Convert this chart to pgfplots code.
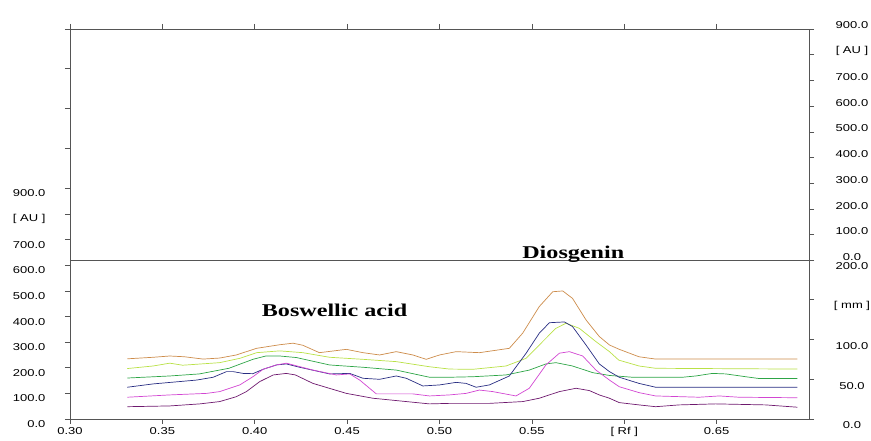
\documentclass[border=0pt]{standalone}
\usepackage{fontspec}
\setmainfont{Liberation Sans}[FakeStretch=1.3]
\newfontfamily\tnr{Liberation Serif}[FakeStretch=1.34]
\usepackage{graphicx}
\usepackage{pgfplots}
\pgfplotsset{compat=1.18}

\definecolor{axgray}{RGB}{85,85,85}
\definecolor{trOrange}{RGB}{205,140,75}
\definecolor{trYellow}{RGB}{185,225,70}
\definecolor{trGreen}{RGB}{45,165,70}
\definecolor{trBlue}{RGB}{40,45,130}
\definecolor{trMagenta}{RGB}{210,70,210}
\definecolor{trPurple}{RGB}{110,25,110}

\pgfplotsset{
  chrom/.style={
    width=739pt, height=390pt, scale only axis,
    xmin=0.3, xmax=0.7,
    axis line style={draw=axgray, line width=0.9pt},
    tick style={draw=axgray, line width=0.6pt},
    major tick length=5pt, tick align=outside,
    font=\fontsize{10}{12}\selectfont,
    /pgf/number format/assume math mode=true,
    no markers,
  },
  trace/.style={line width=0.7pt},
}

\begin{document}
\begin{tikzpicture}
% main axis, left scale [AU]
\begin{axis}[chrom,
  ymin=0, ymax=1523,
  xtick={0.30,0.35,0.40,0.45,0.50,0.55,0.60,0.65},
  xticklabels={0.30,0.35,0.40,0.45,0.50,0.55,{[ Rf ]},0.65},
  ytick={0,100,200,300,400,500,600,700,800,900,1058,1215,1371,1523},
  yticklabels={0.0,100.0,200.0,300.0,400.0,500.0,600.0,700.0,{[ AU ]},900.0,,,,},
  xtick pos=both, ytick pos=left,
  yticklabel style={xshift=-16pt, yshift=-5pt},
]
\addplot[trOrange, trace] coordinates {
(0.331,235) (0.345,241) (0.354,246) (0.362,243) (0.372,234) (0.381,238)
(0.390,250) (0.401,276) (0.4135,290) (0.4207,296) (0.426,288) (0.435,259)
(0.4496,272) (0.4586,259) (0.4676,250) (0.4766,263) (0.4856,250) (0.4928,233)
(0.500,250) (0.509,263) (0.5216,259) (0.5378,276) (0.545,335) (0.554,439)
(0.5613,497) (0.5667,500) (0.572,471) (0.5793,387) (0.5865,322) (0.592,289)
(0.5973,272) (0.608,243) (0.617,234) (0.6937,234)};
\addplot[trYellow, trace] coordinates {
(0.331,197) (0.345,207) (0.354,218) (0.361,210) (0.381,220) (0.392,237)
(0.401,259) (0.4135,266) (0.426,259) (0.4405,241) (0.4586,233) (0.4766,224)
(0.4946,204) (0.5054,195) (0.518,194) (0.536,207) (0.5469,237) (0.5558,302)
(0.563,354) (0.5685,374) (0.5757,354) (0.5847,302) (0.592,263) (0.597,230)
(0.608,207) (0.617,198) (0.6937,195)};
\addplot[trGreen, trace] coordinates {
(0.331,160) (0.354,168) (0.370,176) (0.386,198) (0.399,233) (0.406,246)
(0.4135,246) (0.4225,240) (0.4405,211) (0.4586,202) (0.4766,191) (0.4946,163)
(0.5054,163) (0.518,165) (0.536,172) (0.5486,191) (0.5576,215) (0.563,220)
(0.572,207) (0.5829,181) (0.592,170) (0.6045,163) (0.6315,163) (0.6387,168)
(0.6477,178) (0.655,176) (0.6658,165) (0.673,158) (0.6937,158)};
\addplot[trBlue, trace] coordinates {
(0.331,124) (0.345,137) (0.3685,152) (0.3775,163) (0.3847,185) (0.3883,185)
(0.3937,178) (0.399,177) (0.4045,194) (0.4117,211) (0.4171,215) (0.4243,202)
(0.4405,176) (0.4514,178) (0.4586,159) (0.4676,155) (0.4766,168) (0.482,159)
(0.491,129) (0.500,133) (0.509,143) (0.5144,139) (0.5198,124) (0.527,133)
(0.5378,168) (0.5469,257) (0.554,335) (0.5595,376) (0.5676,379) (0.572,361)
(0.5793,289) (0.5865,215) (0.592,185) (0.5973,163) (0.608,139) (0.617,124)
(0.6937,124)};
\addplot[trMagenta, trace] coordinates {
(0.331,85) (0.354,94) (0.3739,100) (0.381,107) (0.3919,133) (0.399,165)
(0.4045,194) (0.4117,211) (0.4171,218) (0.4315,191) (0.4441,172) (0.4514,176)
(0.4568,152) (0.4658,98) (0.4856,98) (0.4946,90) (0.5054,94) (0.5144,100)
(0.5216,113) (0.5288,107) (0.5414,90) (0.5486,120) (0.5576,211) (0.5649,257)
(0.5703,263) (0.5775,246) (0.5847,191) (0.592,152) (0.5973,126) (0.608,103)
(0.617,90) (0.6405,85) (0.6514,90) (0.662,85) (0.6937,83)};
\addplot[trPurple, trace] coordinates {
(0.331,48) (0.354,51) (0.3703,59) (0.381,68) (0.390,87) (0.3955,107)
(0.4027,146) (0.410,172) (0.4171,178) (0.422,172) (0.4315,139) (0.4496,100)
(0.464,81) (0.4766,72) (0.4946,59) (0.5054,61) (0.527,61) (0.545,68)
(0.554,81) (0.5649,107) (0.5739,120) (0.5811,111) (0.5865,94) (0.592,81)
(0.5973,64) (0.608,55) (0.617,48) (0.6297,55) (0.6495,59) (0.6766,55)
(0.6937,46)};
% divider between the two panels
\addplot[axgray, line width=0.9pt] coordinates {(0.3,621) (0.7,621)};
\node[anchor=base] at (axis cs:0.4432,400) {\fontsize{18}{20}\selectfont\tnr\bfseries Boswellic acid};
\node[anchor=base] at (axis cs:0.5724,628) {\fontsize{18}{20}\selectfont\tnr\bfseries Diosgenin};
\node[anchor=base] at (axis cs:0.5016,1523) [yshift=4pt] {All tracks @ 540 nm};
\end{axis}
% right scale, upper panel [AU]
\begin{axis}[chrom,
  ymin=-616, ymax=900,
  axis x line=none, xtick=\empty,
  axis y line*=right,
  ytick={0,100,200,300,400,500,600,700,800,900},
  yticklabels={0.0,100.0,200.0,300.0,400.0,500.0,600.0,700.0,{[ AU ]},900.0},
  yticklabel style={anchor=center, inner sep=0.5pt, xshift=38pt, yshift=3.5pt},
]
\end{axis}
% right scale, lower panel [mm]
\begin{axis}[chrom,
  ymin=0, ymax=490.6,
  axis x line=none, xtick=\empty,
  axis y line*=right,
  ytick={0,50,100,150,200},
  yticklabels={0.0,50.0,100.0,{[ mm ]},200.0},
  yticklabel style={anchor=center, inner sep=0.5pt, xshift=38pt, yshift=-6.5pt},
]
\end{axis}
\path (-70pt,-20pt) rectangle (801pt,419pt);
\end{tikzpicture}
\end{document}
